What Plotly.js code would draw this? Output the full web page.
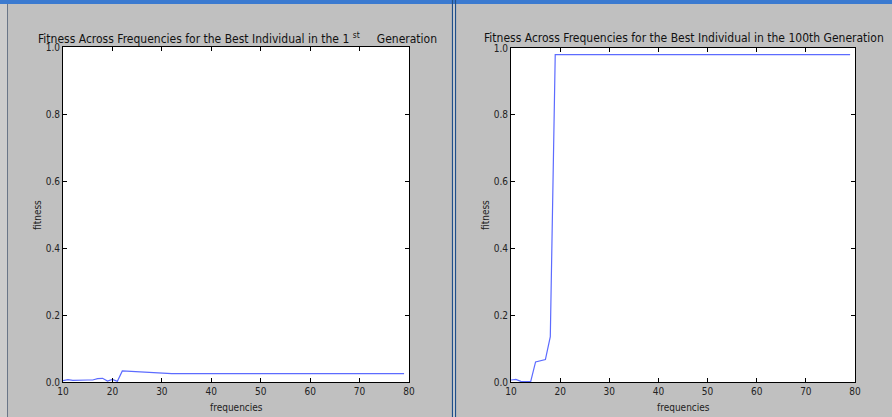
<!DOCTYPE html>
<html>
<head>
<meta charset="utf-8">
<script src="https://cdn.plot.ly/plotly-3.0.1.min.js"></script>
<style>html,body{margin:0;padding:0;background:#c0c0c0;}#chart{width:892px;height:417px;}</style>
</head>
<body>
<div id="chart"></div>
<script>
// Data
const frequencies = [10,11,12,13,14,15,16,17,18,19,20,21,22,23,24,25,26,27,28,29,30,31,32,33,34,35,36,37,38,39,40,41,42,43,44,45,46,47,48,49,50,51,52,53,54,55,56,57,58,59,60,61,62,63,64,65,66,67,68,69,70,71,72,73,74,75,76,77,78,79];
const gen1Head = [0.004,0.007,0.005,0.006,0.007,0.006,0.006,0.010,0.011,0.003,0.008,0.002,0.033,0.032,0.031,0.030,0.029,0.028,0.027,0.026,0.025];
const gen1Tail = new Array(frequencies.length - gen1Head.length).fill(0.025);
const gen1Fitness = gen1Head.concat(gen1Tail);
const gen100Head = [0.006,0.008,0.002,0.002,0.001,0.060,0.063,0.067,0.136,0.980];
const gen100Tail = new Array(frequencies.length - gen100Head.length).fill(0.980);
const gen100Fitness = gen100Head.concat(gen100Tail);
const xTicks = [10,20,30,40,50,60,70,80];
const yTicks = [0,0.2,0.4,0.6,0.8,1.0];
const yTickText = ['0.0','0.2','0.4','0.6','0.8','1.0'];
const title1 = 'Fitness Across Frequencies for the Best Individual in the 1 <sup>st</sup>\u00A0\u00A0\u00A0\u00A0 Generation';
const title2 = 'Fitness Across Frequencies for the Best Individual in the 100th Generation';
const xLabel = 'frequencies';
const yLabel = 'fitness';

const W = 892, H = 417;
const px = x => x / W;
const py = y => 1 - y / H;
const FONT = '"DejaVu Sans Condensed", "Liberation Sans Narrow", "DejaVu Sans", sans-serif';
const lineColor = '#5c6bff';

const axisCommon = {
  showgrid: false, zeroline: false, showline: true, linecolor: '#000', linewidth: 1,
  mirror: 'ticks', ticks: 'inside', ticklen: 4, tickcolor: '#000', tickwidth: 1,
  tickfont: {family: FONT, size: 10, color: '#222'}, fixedrange: true
};

const traces = [
  {x: frequencies, y: gen1Fitness, type: 'scatter', mode: 'lines', line: {color: lineColor, width: 1.2}, xaxis: 'x', yaxis: 'y', hoverinfo: 'skip'},
  {x: frequencies, y: gen100Fitness, type: 'scatter', mode: 'lines', line: {color: lineColor, width: 1.2}, xaxis: 'x2', yaxis: 'y2', hoverinfo: 'skip'}
];

const layout = {
  width: W, height: H,
  margin: {l: 0, r: 0, t: 0, b: 0},
  paper_bgcolor: '#c0c0c0', plot_bgcolor: '#ffffff',
  showlegend: false,
  font: {family: FONT, color: '#222'},
  xaxis: Object.assign({}, axisCommon, {domain: [px(63), px(409)], range: [10, 80], tickvals: xTicks, anchor: 'y', ticklabelstandoff: 0}),
  yaxis: Object.assign({}, axisCommon, {domain: [py(382), py(47)], range: [0, 1], tickvals: yTicks, ticktext: yTickText, anchor: 'x'}),
  xaxis2: Object.assign({}, axisCommon, {domain: [px(511), px(855)], range: [10, 80], tickvals: xTicks, anchor: 'y2'}),
  yaxis2: Object.assign({}, axisCommon, {domain: [py(382), py(48)], range: [0, 1], tickvals: yTicks, ticktext: yTickText, anchor: 'x2'}),
  shapes: [
    {type: 'rect', xref: 'paper', yref: 'paper', x0: 0, x1: 1, y0: py(4), y1: 1, fillcolor: '#3b7ad0', line: {width: 0}, layer: 'below'},
    {type: 'rect', xref: 'paper', yref: 'paper', x0: px(452), x1: px(456), y0: 0, y1: py(4), fillcolor: '#d4d4d4', line: {width: 0}, layer: 'below'},
    {type: 'line', xref: 'paper', yref: 'paper', x0: px(452.5), x1: px(452.5), y0: 0, y1: 1, line: {color: '#1f4f8a', width: 1.2}, layer: 'below'},
    {type: 'line', xref: 'paper', yref: 'paper', x0: px(455.5), x1: px(455.5), y0: 0, y1: 1, line: {color: '#1f4f8a', width: 1.2}, layer: 'below'},
    {type: 'line', xref: 'paper', yref: 'paper', x0: px(7.5), x1: px(7.5), y0: 0, y1: py(4), line: {color: '#6a7688', width: 1}, layer: 'below'},
    {type: 'rect', xref: 'paper', yref: 'paper', x0: 0, x1: px(7), y0: 0, y1: py(4), fillcolor: '#cccccc', line: {width: 0}, layer: 'below'}
  ],
  annotations: [
    {text: title1, xref: 'paper', yref: 'paper', x: px(237), y: py(38), xanchor: 'center', yanchor: 'middle', showarrow: false, font: {family: FONT, size: 12, color: '#111'}},
    {text: title2, xref: 'paper', yref: 'paper', x: px(684), y: py(38), xanchor: 'center', yanchor: 'middle', showarrow: false, font: {family: FONT, size: 12, color: '#111'}},
    {text: xLabel, xref: 'paper', yref: 'paper', x: px(236), y: py(407), xanchor: 'center', yanchor: 'middle', showarrow: false, font: {family: FONT, size: 10, color: '#222'}},
    {text: xLabel, xref: 'paper', yref: 'paper', x: px(683), y: py(407), xanchor: 'center', yanchor: 'middle', showarrow: false, font: {family: FONT, size: 10, color: '#222'}},
    {text: yLabel, xref: 'paper', yref: 'paper', x: px(37), y: py(215), xanchor: 'center', yanchor: 'middle', textangle: -90, showarrow: false, font: {family: FONT, size: 10, color: '#222'}},
    {text: yLabel, xref: 'paper', yref: 'paper', x: px(485), y: py(215), xanchor: 'center', yanchor: 'middle', textangle: -90, showarrow: false, font: {family: FONT, size: 10, color: '#222'}}
  ]
};

Plotly.newPlot('chart', traces, layout, {staticPlot: true, displayModeBar: false});
</script>
</body>
</html>
